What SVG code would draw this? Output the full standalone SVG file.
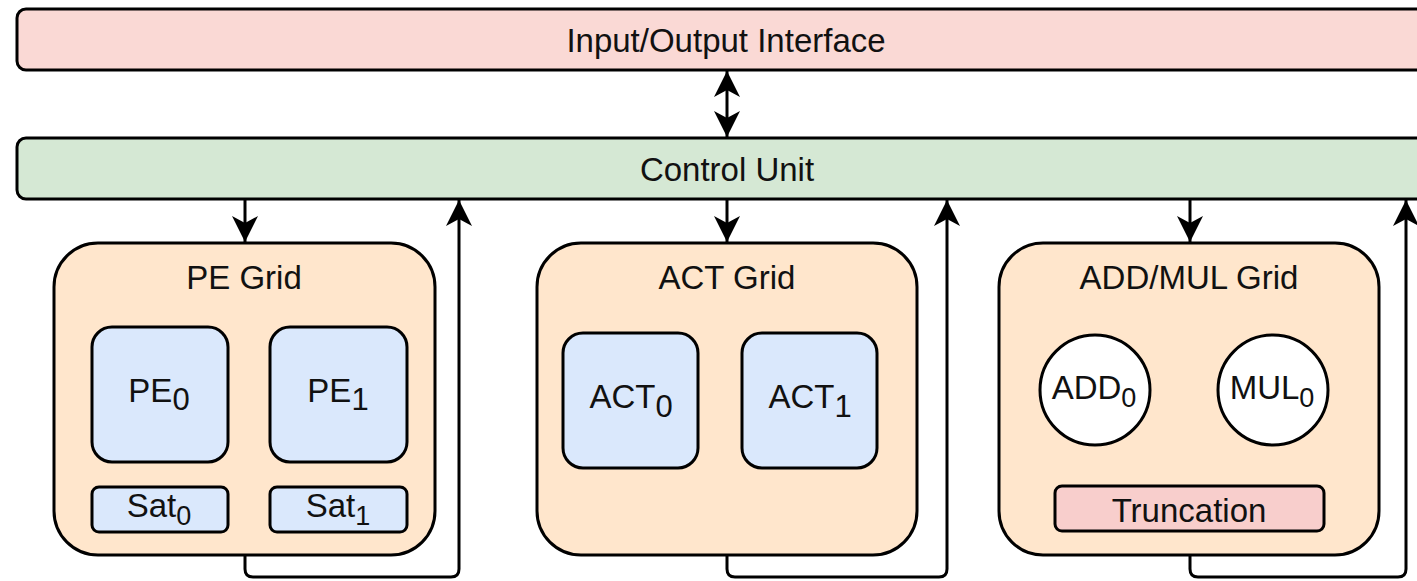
<svg xmlns="http://www.w3.org/2000/svg" width="1417" height="581" viewBox="0 0 1417 581">
  <style>
    .box { stroke: #000; stroke-width: 3; }
    .io { fill: #fad9d5; }
    .ctrl { fill: #d5e8d4; }
    .grid { fill: #ffe6cc; }
    .unit { fill: #dae8fc; }
    .op { fill: #ffffff; }
    .trunc { fill: #f8cecc; }
    text { font-family: "Liberation Sans", Arial, Helvetica, sans-serif; font-size: 33px; fill: #111; text-anchor: middle; }
    .sub { font-size: 31px; }
    .subs { font-size: 27px; }
    .wire { fill: none; stroke: #000; stroke-width: 3; }
  </style>
  <defs>
    <marker id="arrow" markerUnits="userSpaceOnUse" viewBox="-28 -15 30 30" markerWidth="30" markerHeight="30" refX="0" refY="0" orient="auto-start-reverse">
      <path d="M0,0 L-26,-13 L-19,0 L-26,13 Z" fill="#000"/>
    </marker>
  </defs>

  <rect width="1417" height="581" fill="#ffffff"/>

  <!-- top-level buses -->
  <g id="io-interface">
    <rect class="box io" x="17" y="9" width="1420" height="61" rx="9"/>
    <text x="726" y="52">Input/Output Interface</text>
  </g>
  <g id="control-unit">
    <rect class="box ctrl" x="17" y="138" width="1420" height="61" rx="9"/>
    <text x="727" y="181">Control Unit</text>
  </g>

  <!-- processing element grid -->
  <g id="pe-grid">
    <rect class="box grid" x="54" y="243" width="381" height="312" rx="44"/>
    <text x="244" y="289">PE Grid</text>
    <g id="pe0">
      <rect class="box unit" x="92" y="327" width="136" height="135" rx="20"/>
      <text x="159" y="402">PE<tspan class="sub" dy="8">0</tspan></text>
    </g>
    <g id="pe1">
      <rect class="box unit" x="270" y="327" width="137" height="135" rx="20"/>
      <text x="338" y="402">PE<tspan class="sub" dy="8">1</tspan></text>
    </g>
    <g id="sat0">
      <rect class="box unit" x="92" y="487" width="136" height="45" rx="7"/>
      <text x="159" y="517">Sat<tspan class="subs" dy="8">0</tspan></text>
    </g>
    <g id="sat1">
      <rect class="box unit" x="270" y="487" width="137" height="45" rx="7"/>
      <text x="338" y="517">Sat<tspan class="subs" dy="8">1</tspan></text>
    </g>
  </g>

  <!-- activation grid -->
  <g id="act-grid">
    <rect class="box grid" x="537" y="243" width="380" height="312" rx="44"/>
    <text x="727" y="289">ACT Grid</text>
    <g id="act0">
      <rect class="box unit" x="563" y="333" width="135" height="135" rx="20"/>
      <text x="631" y="408">ACT<tspan class="sub" dy="9">0</tspan></text>
    </g>
    <g id="act1">
      <rect class="box unit" x="742" y="333" width="135" height="135" rx="20"/>
      <text x="810" y="408">ACT<tspan class="sub" dy="9">1</tspan></text>
    </g>
  </g>

  <!-- adder / multiplier grid -->
  <g id="addmul-grid">
    <rect class="box grid" x="999" y="243" width="380" height="312" rx="44"/>
    <text x="1189" y="289">ADD/MUL Grid</text>
    <g id="add0">
      <circle class="box op" cx="1095" cy="390" r="55"/>
      <text x="1094" y="399">ADD<tspan class="subs" dy="8">0</tspan></text>
    </g>
    <g id="mul0">
      <circle class="box op" cx="1273" cy="390" r="55"/>
      <text x="1272" y="399">MUL<tspan class="subs" dy="8">0</tspan></text>
    </g>
    <g id="truncation">
      <rect class="box trunc" x="1055" y="486" width="269" height="45" rx="7"/>
      <text x="1189" y="522">Truncation</text>
    </g>
  </g>

  <!-- connectors -->
  <g id="connectors">
    <path class="wire" d="M727,71 V137" marker-start="url(#arrow)" marker-end="url(#arrow)"/>

    <path class="wire" d="M245,200 V242" marker-end="url(#arrow)"/>
    <path class="wire" d="M245,556 V569 Q245,577 253,577 H451 Q459,577 459,569 V200" marker-end="url(#arrow)"/>

    <path class="wire" d="M727,200 V242" marker-end="url(#arrow)"/>
    <path class="wire" d="M727,556 V569 Q727,577 735,577 H939 Q947,577 947,569 V200" marker-end="url(#arrow)"/>

    <path class="wire" d="M1190,200 V242" marker-end="url(#arrow)"/>
    <path class="wire" d="M1190,556 V569 Q1190,577 1198,577 H1398 Q1406,577 1406,569 V200" marker-end="url(#arrow)"/>
  </g>
</svg>
